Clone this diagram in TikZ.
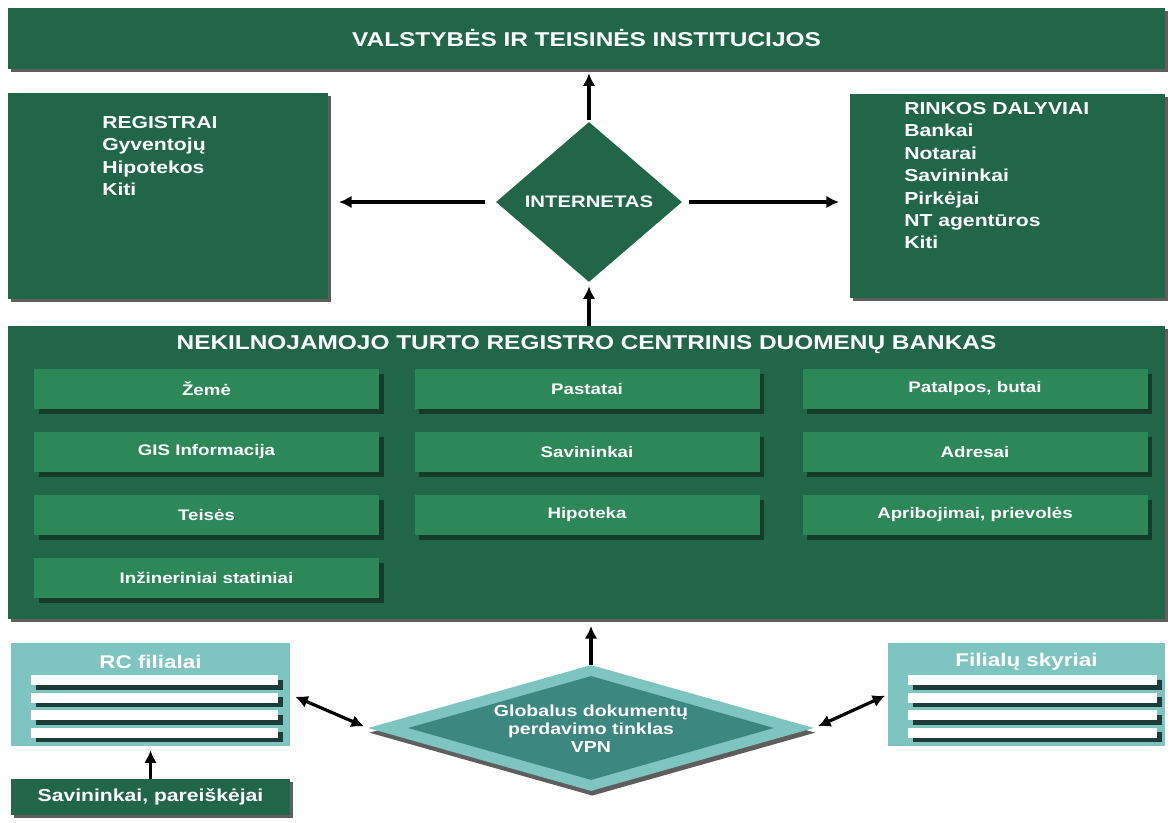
\documentclass[tikz,border=0pt]{standalone}
\usepackage{fontspec}
\setmainfont{Liberation Sans}
\usepackage{graphicx}
\usetikzlibrary{shapes.geometric,shadows,arrows.meta}
\definecolor{dkgreen}{HTML}{22664A}
\definecolor{ingreen}{HTML}{2D8859}
\definecolor{lteal}{HTML}{7EC4C0}
\definecolor{dteal}{HTML}{3C8880}
\definecolor{shgray}{HTML}{5E5E5E}
\definecolor{inshadow}{HTML}{163B28}
\definecolor{barshadow}{HTML}{1E3C3A}
\newcommand\hsx[1]{\scalebox{1.22}[1]{#1}}
\tikzset{
  wh/.style 2 args={minimum width=#1*0.75pt, minimum height=#2*0.75pt},
  darkbox/.style={rectangle, fill=dkgreen, inner sep=0pt,
    drop shadow={shadow xshift=2.5pt, shadow yshift=-2.5pt, opacity=1, fill=shgray}},
  inbox/.style={rectangle, fill=ingreen, inner sep=0pt, wh={345}{40},
    font=\bfseries\fontsize{11.5}{13}\selectfont, text=white,
    drop shadow={shadow xshift=3.5pt, shadow yshift=-3.5pt, opacity=1, fill=inshadow}},
  tealbox/.style={rectangle, fill=lteal, inner sep=0pt},
  bar/.style={rectangle, fill=white, inner sep=0pt,
    drop shadow={shadow xshift=3.5pt, shadow yshift=-3.5pt, opacity=1, fill=barshadow}},
  titletext/.style={font=\bfseries\fontsize{15}{18}\selectfont, text=white},
  listtext/.style={font=\bfseries\fontsize{13}{16.8}\selectfont, text=white, inner sep=0pt},
  subtitle/.style={font=\bfseries\fontsize{13.8}{16}\selectfont, text=white, inner sep=0pt},
  arr/.style={draw=black, line width=2.4pt, -{Latex[length=9.5pt,width=9.5pt]}},
  dblarr/.style={draw=black, line width=2.4pt, {Latex[length=9.5pt,width=9.5pt]}-{Latex[length=9.5pt,width=9.5pt]}},
}
\begin{document}
\begin{tikzpicture}[x=0.75pt,y=-0.75pt]
\useasboundingbox (0,0) rectangle (1175,823);
\fill[white] (0,0) rectangle (1175,823);

% top banner
\node[darkbox, wh={1157}{61}, titletext] (ban) at (586.5,38.5) {\hsx{VALSTYBĖS IR TEISINĖS INSTITUCIJOS}};

% registrai
\node[darkbox, wh={320}{206}] (reg) at (168,196) {};
\node[listtext, anchor=base west] (regt) at (102,128.5) {\hsx{\begin{tabular}[t]{@{}l@{}}REGISTRAI\\Gyventojų\\Hipotekos\\Kiti\end{tabular}}};

% rinkos dalyviai
\node[darkbox, wh={315}{204}] (rink) at (1007.5,196) {};
\node[listtext, anchor=base west] (rinkt) at (904,114.5) {\hsx{\begin{tabular}[t]{@{}l@{}}RINKOS DALYVIAI\\Bankai\\Notarai\\Savininkai\\Pirkėjai\\NT agentūros\\Kiti\end{tabular}}};

% internetas
\node[diamond, fill=dkgreen, inner sep=0pt, wh={186}{160},
  font=\bfseries\fontsize{12.5}{14}\selectfont, text=white] (int) at (589,202) {\hsx{INTERNETAS}};

% central data bank
\node[darkbox, wh={1157}{293}] (big) at (586.5,472.5) {};
\node[titletext, inner sep=0pt] (bigt) at (586.5,345) {\hsx{NEKILNOJAMOJO TURTO REGISTRO CENTRINIS DUOMENŲ BANKAS}};

\node[inbox] (zeme) at (206.5,389) {\hsx{Žemė}};
\node[inbox] (past) at (587,389) {\hsx{Pastatai}};
\node[inbox] (patal) at (975,389) {\hsx{Patalpos, butai}};
\node[inbox] (gis) at (206.5,452) {\hsx{GIS Informacija}};
\node[inbox] (savin) at (587,452) {\hsx{Savininkai}};
\node[inbox] (adr) at (975,452) {\hsx{Adresai}};
\node[inbox] (teis) at (206.5,515) {\hsx{Teisės}};
\node[inbox] (hip) at (587,515) {\hsx{Hipoteka}};
\node[inbox] (aprib) at (975,515) {\hsx{Apribojimai, prievolės}};
\node[inbox] (inz) at (206.5,578) {\hsx{Inžineriniai statiniai}};

% RC filialai
\node[tealbox, wh={279}{103}] (rc) at (150.5,694.5) {};
\node[subtitle] (rct) at (150.5,662) {\hsx{RC filialai}};
\node[bar, wh={247}{10}] (rcb1) at (154.5,680) {};
\node[bar, wh={247}{10}] (rcb2) at (154.5,697.5) {};
\node[bar, wh={247}{10}] (rcb3) at (154.5,715) {};
\node[bar, wh={247}{10}] (rcb4) at (154.5,732.5) {};

% Filialu skyriai
\node[tealbox, wh={277}{103}] (fil) at (1026.5,694.5) {};
\node[subtitle] (filt) at (1026.5,662) {\hsx{Filialų skyriai}};
\node[bar, wh={249}{10}] (filb1) at (1032.5,680) {};
\node[bar, wh={249}{10}] (filb2) at (1032.5,697.5) {};
\node[bar, wh={249}{10}] (filb3) at (1032.5,715) {};
\node[bar, wh={249}{10}] (filb4) at (1032.5,732.5) {};

% savininkai, pareiskejai
\node[darkbox, wh={279}{36}, font=\bfseries\fontsize{13}{15}\selectfont, text=white] (sav) at (150.5,797) {\hsx{Savininkai, pareiškėjai}};

% VPN diamond
\node[diamond, fill=lteal, inner sep=0pt, wh={446}{126},
  drop shadow={shadow xshift=1pt, shadow yshift=-3.5pt, opacity=1, fill=shgray}] (vpn) at (591,728) {};
\node[diamond, fill=dteal, inner sep=0pt, wh={366}{104}] (vpnin) at (591,728) {};
\node[font=\bfseries\fontsize{12}{13.5}\selectfont, text=white, align=center, inner sep=0pt] (vpnt) at (591,729)
  {\hsx{Globalus dokumentų}\\\hsx{perdavimo tinklas}\\\hsx{VPN}};

% arrows
\draw[arr, shorten >=3pt, shorten <=1pt] (int.north) -- (int.north |- ban.south);
\draw[arr, shorten >=8pt, shorten <=8pt] (int.west) -- (int.west -| reg.east);
\draw[arr, shorten >=8pt, shorten <=5pt] (int.east) -- (int.east -| rink.west);
\draw[arr, shorten >=3pt] (int.south |- big.north) -- (int.south);
\draw[arr, shorten >=5pt] (vpn.north) -- (vpn.north |- big.south);
\draw[arr, shorten >=3pt] (sav.north) -- (rc.south);
\draw[dblarr, shorten >=3pt, shorten <=4pt] (rc.east) -- (vpn.west);
\draw[dblarr, shorten >=2pt, shorten <=3pt] (vpn.east) -- (fil.west);
\end{tikzpicture}
\end{document}
